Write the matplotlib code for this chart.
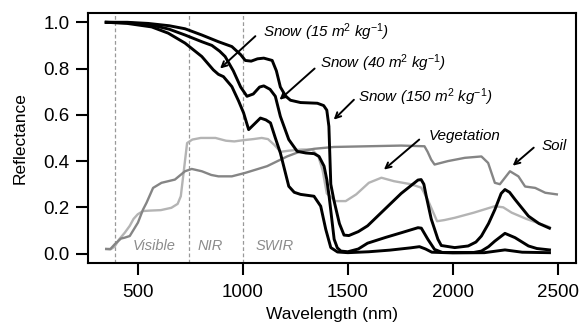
import numpy as np
import matplotlib.pyplot as plt

plt.rcParams['font.family'] = ['Liberation Sans', 'DejaVu Sans']
plt.rcParams['mathtext.fontset'] = 'custom'
plt.rcParams['mathtext.rm'] = 'Liberation Sans'
plt.rcParams['mathtext.it'] = 'Liberation Sans:italic'
plt.rcParams['mathtext.default'] = 'it'

# --- Spectra (wavelength nm, reflectance) ---
snow150_wl = [350, 450, 550, 650, 725, 805, 884, 948, 990, 1012, 1040, 1070, 1100, 1140, 1160,
              1179, 1205, 1227, 1275, 1355, 1385, 1400, 1410, 1419, 1434, 1460, 1482, 1505, 1550,
              1594, 1674, 1754, 1834, 1849, 1862, 1873, 1897, 1929, 1945, 2009, 2073, 2110, 2136,
              2170, 2200, 2230, 2248, 2270, 2296, 2360, 2410, 2460]
snow150_r = [1.0, 1.0, 0.995, 0.985, 0.972, 0.945, 0.916, 0.895, 0.86, 0.835, 0.832, 0.842, 0.845,
             0.835, 0.79, 0.72, 0.68, 0.663, 0.653, 0.650, 0.64, 0.62, 0.55, 0.30, 0.23, 0.13, 0.08,
             0.078, 0.095, 0.12, 0.19, 0.26, 0.318, 0.32, 0.30, 0.25, 0.15, 0.062, 0.035, 0.026,
             0.033, 0.05, 0.076, 0.13, 0.19, 0.26, 0.277, 0.265, 0.234, 0.162, 0.13, 0.11]

snow40_wl = [350, 450, 566, 650, 725, 805, 853, 890, 916, 955, 990, 1020, 1050, 1080, 1100, 1130,
             1155, 1179, 1219, 1259, 1300, 1340, 1363, 1387, 1400, 1411, 1435, 1450, 1467, 1500,
             1550, 1594, 1680, 1754, 1834, 1850, 1881, 1913, 1950, 2100, 2136, 2170, 2200, 2248,
             2296, 2360, 2400, 2460]
snow40_r = [1.0, 0.998, 0.988, 0.97, 0.945, 0.916, 0.9, 0.875, 0.852, 0.79, 0.72, 0.68, 0.69, 0.72,
            0.725, 0.71, 0.68, 0.593, 0.493, 0.442, 0.435, 0.432, 0.42, 0.378, 0.32, 0.248, 0.062,
            0.025, 0.011, 0.008, 0.02, 0.045, 0.07, 0.09, 0.112, 0.11, 0.062, 0.018, 0.005, 0.005,
            0.011, 0.03, 0.054, 0.0875, 0.069, 0.033, 0.022, 0.016]

snow15_wl = [350, 450, 566, 645, 725, 805, 860, 884, 908, 948, 980, 1004, 1028, 1055, 1084, 1110,
             1132, 1155, 1179, 1219, 1245, 1275, 1339, 1371, 1395, 1419, 1451, 1500, 1600, 1700,
             1800, 1841, 1870, 1900, 2000, 2150, 2248, 2330, 2460]
snow15_r = [1.0, 0.995, 0.98, 0.953, 0.91, 0.852, 0.794, 0.775, 0.765, 0.722, 0.66, 0.608, 0.536,
            0.56, 0.586, 0.578, 0.565, 0.5, 0.435, 0.291, 0.265, 0.256, 0.248, 0.205, 0.105, 0.026,
            0.007, 0.004, 0.008, 0.015, 0.025, 0.03, 0.02, 0.006, 0.003, 0.004, 0.016, 0.006, 0.004]

veg_wl = [350, 370, 390, 410, 438, 462, 480, 500, 525, 560, 610, 660, 690, 705, 720, 735, 760, 800,
          870, 920, 960, 1000, 1050, 1090, 1120, 1150, 1180, 1220, 1280, 1330, 1360, 1380, 1400,
          1440, 1490, 1540, 1600, 1660, 1720, 1800, 1850, 1880, 1925, 1960, 2010, 2100, 2200, 2240,
          2280, 2350, 2400, 2460]
veg_r = [0.02, 0.018, 0.03, 0.06, 0.09, 0.12, 0.15, 0.17, 0.184, 0.186, 0.188, 0.198, 0.215, 0.248,
         0.363, 0.478, 0.493, 0.5, 0.5, 0.488, 0.485, 0.49, 0.495, 0.5, 0.495, 0.47, 0.44, 0.445,
         0.45, 0.45, 0.42, 0.36, 0.26, 0.227, 0.227, 0.256, 0.306, 0.328, 0.313, 0.30, 0.285,
         0.234, 0.14, 0.145, 0.155, 0.177, 0.205, 0.2, 0.177, 0.15, 0.134, 0.115]

soil_wl = [350, 370, 390, 420, 438, 462, 501, 525, 542, 573, 613, 677, 725, 757, 805, 850, 884, 948,
           1012, 1116, 1211, 1275, 1339, 1434, 1594, 1754, 1865, 1880, 1897, 1913, 1977, 2057,
           2136, 2168, 2200, 2224, 2272, 2312, 2344, 2392, 2440, 2495]
soil_r = [0.02, 0.02, 0.04, 0.065, 0.069, 0.076, 0.134, 0.19, 0.22, 0.284, 0.306, 0.32, 0.356,
          0.366, 0.356, 0.34, 0.334, 0.334, 0.349, 0.378, 0.42, 0.442, 0.453, 0.461, 0.464, 0.467,
          0.464, 0.44, 0.406, 0.385, 0.4, 0.414, 0.42, 0.392, 0.306, 0.3, 0.356, 0.334, 0.29,
          0.284, 0.263, 0.256]

region_edges = [390, 745, 1000]
region_names = ["Visible", "NIR", "SWIR"]
region_text_x = [475, 785, 1060]

x_ticks = [500, 1000, 1500, 2000, 2500]
y_ticks = [0.0, 0.2, 0.4, 0.6, 0.8, 1.0]

fig = plt.figure(figsize=(5.8, 3.34), dpi=100)
ax = fig.add_axes([0.152, 0.213, 0.841, 0.748])

for xv in region_edges:
    ax.axvline(xv, color='#999999', linestyle=(0, (3, 2)), linewidth=0.9, zorder=1)
for name, xt in zip(region_names, region_text_x):
    ax.text(xt, 0.033, name, color='#8c8c8c', style='italic', fontsize=10.5, va='center', ha='left')

ax.plot(veg_wl, veg_r, color='#b4b4b4', linewidth=1.7, zorder=2)
ax.plot(soil_wl, soil_r, color='#858585', linewidth=1.7, zorder=2)
ax.plot(snow15_wl, snow15_r, color='black', linewidth=2.1, zorder=3)
ax.plot(snow40_wl, snow40_r, color='black', linewidth=2.1, zorder=3)
ax.plot(snow150_wl, snow150_r, color='black', linewidth=2.1, zorder=3)

# labels with arrows (text position, arrow tail, arrow head)
notes = [
    (r"Snow (15 m$^{2}$ kg$^{-1}$)", (1098, 0.958), (1060, 0.94), (892, 0.80)),
    (r"Snow (40 m$^{2}$ kg$^{-1}$)", (1366, 0.824), (1342, 0.80), (1175, 0.665)),
    (r"Snow (150 m$^{2}$ kg$^{-1}$)", (1548, 0.674), (1529, 0.665), (1433, 0.579)),
    ("Vegetation", (1883, 0.51), (1840, 0.493), (1672, 0.363)),
    ("Soil", (2423, 0.467), (2385, 0.458), (2285, 0.38)),
]
for txt, tpos, tail, head in notes:
    ax.text(tpos[0], tpos[1], txt, style='italic', fontsize=10.9, ha='left', va='center')
    ax.annotate("", xy=head, xytext=tail,
                arrowprops=dict(arrowstyle='->', color='black', lw=1.4,
                                mutation_scale=10, shrinkA=0, shrinkB=0))

ax.set_xlim(264, 2586)
ax.set_ylim(-0.04, 1.04)
ax.set_xticks(x_ticks)
ax.set_yticks(y_ticks)
ax.set_yticklabels([f"{v:.1f}" for v in y_ticks])
ax.tick_params(direction='out', length=8.5, width=1.5, labelsize=13.5)
ax.tick_params(axis='x', pad=7)
ax.tick_params(axis='y', pad=5)
for s in ax.spines.values():
    s.set_linewidth(1.5)

ax.set_xlabel("Wavelength (nm)", fontsize=12.5, labelpad=4)
ax.set_ylabel("Reflectance", fontsize=12.5, labelpad=11)

fig.savefig("out.png", dpi=100)
